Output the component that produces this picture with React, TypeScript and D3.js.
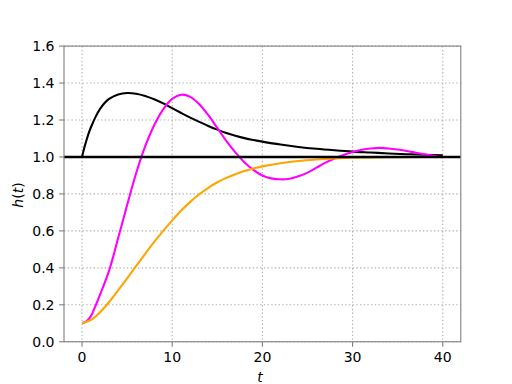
import React from "react";
import * as d3 from "d3";

const tBlack = [0, 0.25, 0.5, 0.75, 1, 1.5, 2, 2.5, 3, 4, 5, 6, 7, 8, 9, 10, 11, 12, 13, 14, 15, 16, 17, 18, 19, 20, 22, 24, 26, 28, 30, 32, 34, 36, 38, 40];
const hBlack = [1.0, 1.05, 1.092, 1.13, 1.162, 1.217, 1.26, 1.292, 1.314, 1.338, 1.346, 1.342, 1.33, 1.312, 1.29, 1.264, 1.238, 1.213, 1.19, 1.168, 1.148, 1.13, 1.115, 1.102, 1.092, 1.083, 1.067, 1.054, 1.044, 1.036, 1.029, 1.024, 1.019, 1.015, 1.012, 1.009];

const tMagenta = [0, 0.5, 1, 1.5, 2, 3, 4, 5, 6, 7, 8, 9, 10, 11, 12, 13, 14, 15, 16, 17, 18, 19, 20, 21, 22, 23, 24, 25, 26, 27, 28, 29, 30, 31, 32, 33, 34, 35, 36, 37, 38, 39, 40];
const hMagenta = [0.1, 0.11, 0.14, 0.195, 0.255, 0.385, 0.56, 0.74, 0.912, 1.057, 1.172, 1.258, 1.314, 1.337, 1.325, 1.285, 1.226, 1.157, 1.087, 1.025, 0.972, 0.93, 0.9, 0.884, 0.879, 0.882, 0.895, 0.915, 0.942, 0.969, 0.992, 1.011, 1.027, 1.039, 1.046, 1.049, 1.046, 1.04, 1.032, 1.023, 1.014, 1.006, 0.998];

const tOrange = [0, 1, 2, 3, 4, 5, 6, 7, 8, 9, 10, 11, 12, 13, 14, 15, 16, 17, 18, 19, 20, 22, 24, 26, 28, 30, 35, 40];
const hOrange = [0.1, 0.118, 0.16, 0.215, 0.278, 0.343, 0.41, 0.476, 0.54, 0.6, 0.657, 0.71, 0.757, 0.798, 0.833, 0.863, 0.887, 0.907, 0.924, 0.938, 0.949, 0.966, 0.978, 0.986, 0.992, 0.996, 0.999, 1.0];

const xTicks = [0, 10, 20, 30, 40];
const yTicks = [0.0, 0.2, 0.4, 0.6, 0.8, 1.0, 1.2, 1.4, 1.6];

const W = 512, H = 384;
const L = 64, R = 460.8, T = 46.08, B = 341.76;

export default function App() {
  const x = d3.scaleLinear().domain([-2, 42]).range([L, R]);
  const y = d3.scaleLinear().domain([0, 1.6]).range([B, T]);
  const line = d3.line<[number, number]>().x(d => x(d[0])).y(d => y(d[1])).curve(d3.curveCatmullRom.alpha(0.5));
  const mk = (ts: number[], hs: number[]) => line(ts.map((t, i) => [t, hs[i]] as [number, number])) || "";
  const font = "DejaVu Sans, sans-serif";
  const spine = "#808080";
  return (
    <svg width={W} height={H} style={{ position: "absolute", left: 0, top: 0, background: "#fff" }}>
      <rect x={0} y={0} width={W} height={H} fill="#fff" />
      <defs>
        <clipPath id="clip"><rect x={L} y={T} width={R - L} height={B - T} /></clipPath>
      </defs>
      {xTicks.map(t => (
        <line key={"gx" + t} x1={x(t)} x2={x(t)} y1={T} y2={B} stroke="#b0b0b0" strokeWidth={1.1} strokeDasharray="1.4,2.3" />
      ))}
      {yTicks.map(t => (
        <line key={"gy" + t} x1={L} x2={R} y1={y(t)} y2={y(t)} stroke="#b0b0b0" strokeWidth={1.1} strokeDasharray="1.4,2.3" />
      ))}
      <g clipPath="url(#clip)" fill="none" strokeWidth={2.1} strokeLinejoin="round" strokeLinecap="butt">
        <path d={mk(tBlack, hBlack)} stroke="#000" />
        <path d={mk(tMagenta, hMagenta)} stroke="#ff00ff" />
        <path d={mk(tOrange, hOrange)} stroke="#ffa500" />
        <line x1={L} x2={R} y1={y(1)} y2={y(1)} stroke="#000" strokeWidth={2.6} />
      </g>
      <rect x={L} y={T} width={R - L} height={B - T} fill="none" stroke={spine} strokeWidth={1.1} />
      {xTicks.map(t => (
        <g key={"xt" + t}>
          <line x1={x(t)} x2={x(t)} y1={B} y2={B + 4.9} stroke={spine} strokeWidth={1.1} />
          <text x={x(t)} y={362} textAnchor="middle" fontFamily={font} fontSize={14} fill="#000">{String(t)}</text>
        </g>
      ))}
      {yTicks.map(t => (
        <g key={"yt" + t}>
          <line x1={L} x2={L - 4.9} y1={y(t)} y2={y(t)} stroke={spine} strokeWidth={1.1} />
          <text x={54.5} y={y(t) + 5.1} textAnchor="end" fontFamily={font} fontSize={14} fill="#000">{t.toFixed(1)}</text>
        </g>
      ))}
      <text x={260} y={381.5} textAnchor="middle" fontFamily={font} fontSize={14} fontStyle="italic" fill="#000">t</text>
      <text transform="translate(23,195) rotate(-90)" textAnchor="middle" fontFamily={font} fontSize={14} fill="#000">
        <tspan fontStyle="italic">h</tspan><tspan>(</tspan><tspan fontStyle="italic">t</tspan><tspan>)</tspan>
      </text>
    </svg>
  );
}
